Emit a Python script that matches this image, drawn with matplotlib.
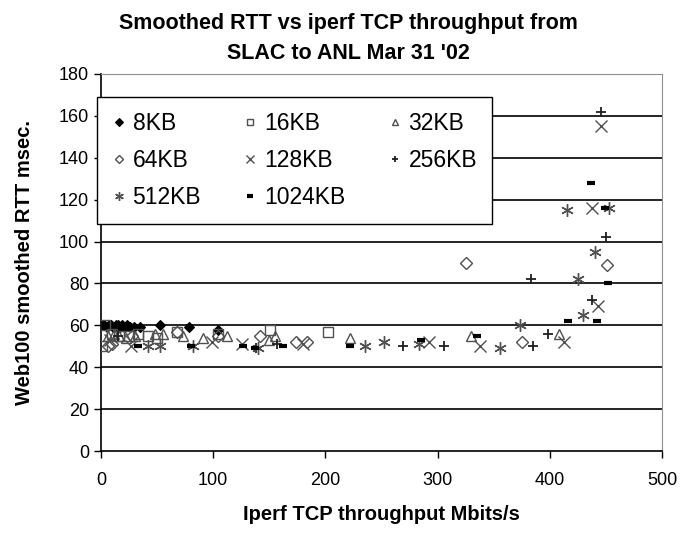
#!/usr/bin/env python
#
# Smoothed RTT vs iperf TCP throughput, SLAC to ANL, Mar 31 '02 (one series per TCP window size).

import matplotlib
matplotlib.use("Agg")
import matplotlib.pyplot as plt
from matplotlib import font_manager as fm

# Data: (throughput Mbits/s, smoothed RTT msec)
kb8_x = [1, 3, 5, 7, 9, 11, 13, 15, 17, 19, 21, 23, 26, 29, 35, 53, 78, 104]
kb8_y = [60, 60, 59, 60, 60, 59, 60, 60, 59, 60, 59, 60, 59, 59, 59, 60, 59, 58]

kb16_x = [1, 4, 10, 16, 25, 33, 42, 50, 68, 104, 151, 202]
kb16_y = [50, 60, 56, 55, 55, 56, 55, 54, 57, 56, 58, 57]

kb32_x = [6, 12, 16, 22, 30, 48, 55, 73, 91, 112, 150, 155, 222, 330, 408]
kb32_y = [55, 56, 55, 54, 55, 56, 56, 55, 54, 55, 53, 55, 54, 55, 56]

kb64_x = [6, 10, 28, 68, 104, 142, 174, 184, 325, 375, 451]
kb64_y = [50, 51, 55, 57, 55, 55, 52, 52, 90, 52, 89]

kb128_x = [8, 27, 99, 126, 180, 292, 338, 413, 438, 443, 446]
kb128_y = [53, 50, 52, 51, 51, 52, 50, 52, 116, 69, 155]

kb256_x = [15, 138, 157, 269, 306, 383, 385, 398, 438, 446, 450]
kb256_y = [55, 49, 51, 50, 50, 82, 50, 56, 72, 162, 102]

kb512_x = [42, 53, 82, 140, 235, 252, 283, 356, 373, 415, 425, 430, 440, 453]
kb512_y = [50, 50, 50, 49, 50, 52, 51, 49, 60, 115, 82, 65, 95, 116]

kb1024_x = [33, 80, 127, 137, 162, 222, 285, 335, 416, 437, 442, 449, 452]
kb1024_y = [50, 50, 50, 49, 50, 50, 53, 55, 62, 128, 62, 116, 80]

series_labels = ["8KB", "16KB", "32KB", "64KB", "128KB", "256KB", "512KB", "1024KB"]
x_ticks = [0, 100, 200, 300, 400, 500]
y_ticks = [0, 20, 40, 60, 80, 100, 120, 140, 160, 180]

names = {f.name for f in fm.fontManager.ttflist}
main_font = "Liberation Sans" if "Liberation Sans" in names else "DejaVu Sans"
plt.rcParams["font.family"] = [main_font, "DejaVu Sans"]

fig = plt.figure(figsize=(6.96, 5.35), dpi=100)
ax = fig.add_axes([101 / 696, 1 - 451 / 535, 561 / 696, 377 / 535])

grey = "#505050"
styles = [
    dict(marker="D", ms=5.5, mfc="black", mec="black", mew=0.8),
    dict(marker="s", ms=6.5, mfc="none", mec=grey, mew=1.0),
    dict(marker="^", ms=7, mfc="none", mec=grey, mew=1.0),
    dict(marker="D", ms=6, mfc="none", mec=grey, mew=1.0),
    dict(marker="x", ms=8, mfc="none", mec=grey, mew=1.0),
    dict(marker="+", ms=7, mfc="none", mec="#202020", mew=1.3),
    dict(marker=(6, 2, 0), ms=9, mfc="none", mec=grey, mew=1.0),
    dict(marker="_", ms=6, mfc="none", mec="black", mew=3.0),
]
data = [(kb8_x, kb8_y), (kb16_x, kb16_y), (kb32_x, kb32_y), (kb64_x, kb64_y),
        (kb128_x, kb128_y), (kb256_x, kb256_y), (kb512_x, kb512_y), (kb1024_x, kb1024_y)]

handles = []
for (xs, ys), lab, st in zip(data, series_labels, styles):
    h, = ax.plot(xs, ys, linestyle="none", label=lab, zorder=3, **st)
    handles.append(h)

ax.set_xlim(0, 500)
ax.set_ylim(0, 180)
ax.set_xticks(x_ticks)
ax.set_yticks(y_ticks)
ax.tick_params(direction="out", length=5, width=1, colors="black", labelsize=13)
ax.tick_params(axis="x", pad=10)

for y in y_ticks[1:-1]:
    ax.axhline(y, color="black", lw=1.2, zorder=1)
ax.spines["left"].set_linewidth(1.2)
ax.spines["bottom"].set_linewidth(1.2)
ax.spines["top"].set_color("#909090")
ax.spines["right"].set_color("#909090")

ax.set_xlabel("Iperf TCP throughput Mbits/s", fontsize=14.5, fontweight="bold", labelpad=12)
ax.set_ylabel("Web100 smoothed RTT msec.", fontsize=14.5, fontweight="bold", labelpad=18)
fig.text(0.5, 0.957, "Smoothed RTT vs iperf TCP throughput from", ha="center", va="center",
         fontsize=15.5, fontweight="bold")
fig.text(0.5, 0.900, "SLAC to ANL Mar 31 '02", ha="center", va="center",
         fontsize=15.5, fontweight="bold")

# legend filled row by row, 3 columns
order = [0, 3, 6, 1, 4, 7, 2, 5]
leg = ax.legend([handles[i] for i in order], [series_labels[i] for i in order],
                ncol=3, loc="upper left",
                bbox_to_anchor=(97 / 696, 1 - 237 / 535, 395 / 696, 140 / 535),
                bbox_transform=fig.transFigure, mode="expand", fontsize=16.5, frameon=True,
                fancybox=False, framealpha=1, edgecolor="black", markerscale=0.7,
                handlelength=0.6, handletextpad=0.3, borderpad=0.65, labelspacing=0.62,
                columnspacing=1.0, borderaxespad=0)
leg.get_frame().set_linewidth(1.0)
leg.set_zorder(5)

fig.savefig("out.png", dpi=100)
